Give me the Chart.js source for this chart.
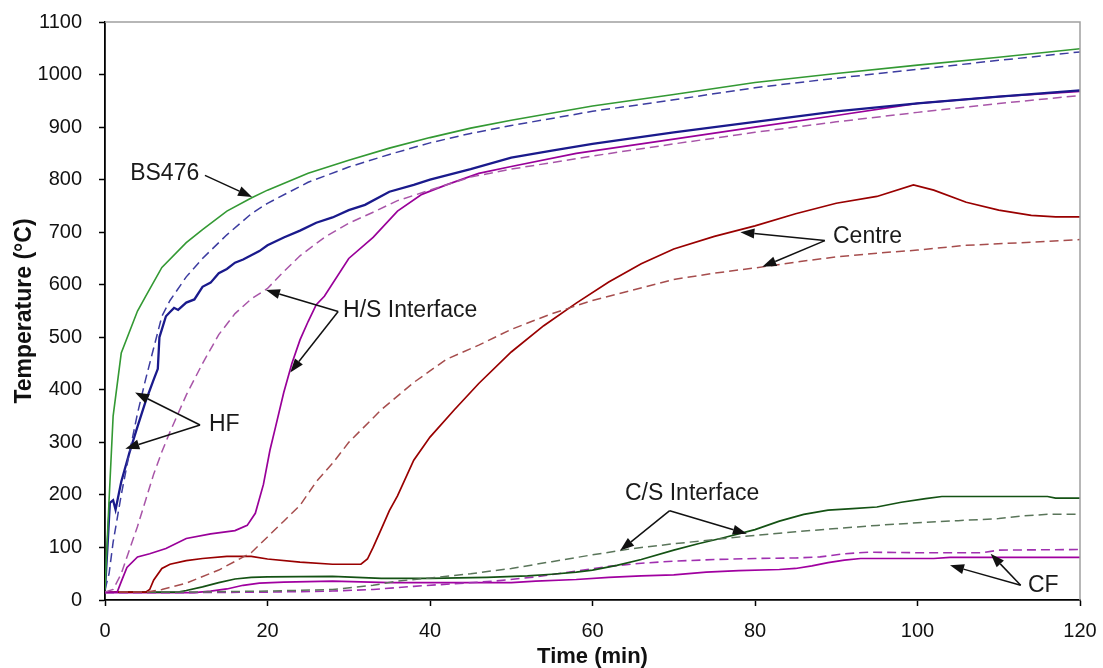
<!DOCTYPE html>
<html>
<head>
<meta charset="utf-8">
<script src="https://cdn.jsdelivr.net/npm/chart.js@4.4.1/dist/chart.umd.min.js"></script>
<style>
  html, body { margin: 0; padding: 0; background: #ffffff; }
  #wrap { width: 1103px; height: 668px; position: relative; }
</style>
</head>
<body>
<div id="wrap"><canvas id="c" width="1103" height="668"></canvas></div>
<script>
// ---- Axis ticks ----
const xTicks = [0, 20, 40, 60, 80, 100, 120];
const yTicks = [0, 100, 200, 300, 400, 500, 600, 700, 800, 900, 1000, 1100];

// ---- BS476 furnace curve ----
const bs476T = [0, 0.5, 1, 2, 4, 5, 7, 10, 12, 15, 18, 20, 25, 30, 35, 40, 45, 50, 60, 70, 80, 90, 100, 110, 120];
const bs476V = [20, 190, 350, 470, 550, 578, 633, 680, 705, 740, 765, 780, 812, 837, 860, 880, 898, 913, 940, 962, 985, 1002, 1018, 1033, 1049];

// ---- HF measured (solid) / predicted (dashed) ----
const hfMeasT = [0, 0.3, 0.6, 1, 1.3, 2, 3, 4, 5, 6, 6.5, 6.7, 7, 7.5, 8, 8.5, 9, 10, 11, 12, 13, 14, 15, 16, 17, 18, 19, 20, 22, 24, 26, 28, 30, 32, 35, 38, 40, 45, 50, 55, 60, 70, 80, 90, 100, 110, 120];
const hfMeasV = [20, 100, 185, 190, 172, 225, 280, 330, 378, 420, 440, 500, 515, 540, 548, 556, 552, 566, 572, 596, 604, 622, 630, 642, 648, 656, 664, 675, 690, 703, 718, 728, 742, 752, 777, 790, 800, 820, 842, 855, 868, 890, 910, 930, 945, 958, 970];
const hfPredT = [0, 0.5, 1, 2, 3, 4, 5, 6, 7, 8, 10, 12, 15, 18, 20, 25, 30, 35, 40, 45, 50, 60, 70, 80, 90, 100, 110, 120];
const hfPredV = [20, 50, 110, 200, 280, 355, 420, 480, 540, 570, 615, 650, 695, 735, 755, 795, 824, 848, 870, 888, 903, 930, 952, 975, 993, 1010, 1027, 1043];

// ---- H/S interface measured / predicted ----
const hsMeasT = [0, 1.5, 2, 2.7, 4, 5.5, 7.5, 10, 13, 16, 17.5, 18.5, 19.5, 20.3, 21, 22, 23, 24, 25, 26, 27, 30, 33, 36, 39, 42, 46, 50, 58, 70, 80, 90, 100, 110, 120];
const hsMeasV = [15, 15, 35, 62, 82, 88, 98, 117, 126, 132, 142, 165, 220, 285, 330, 395, 450, 495, 530, 562, 578, 650, 690, 740, 772, 790, 812, 825, 850, 877, 900, 922, 945, 958, 968];
const hsPredT = [0, 1, 2, 3, 4, 5, 6, 7, 8, 9, 10, 12, 14, 16, 18, 20, 22, 24, 27, 30, 33, 36, 40, 45, 50, 60, 70, 80, 90, 100, 110, 120];
const hsPredV = [15, 20, 50, 95, 140, 190, 240, 282, 320, 355, 390, 450, 505, 545, 573, 593, 625, 655, 690, 717, 738, 760, 780, 805, 820, 845, 868, 890, 910, 928, 945, 960];

// ---- Centre measured / predicted ----
const ctMeasT = [0, 5, 5.5, 6, 7, 8, 10, 12, 15, 18, 20, 24, 28, 31.5, 32.3, 33, 34, 35, 36, 38, 40, 43, 46, 50, 54, 58, 62, 66, 70, 75, 80, 85, 90, 95, 99.5, 102, 106, 110, 114, 117, 120];
const ctMeasV = [15, 15, 20, 38, 60, 68, 75, 79, 83, 83, 78, 72, 68, 68, 78, 100, 135, 170, 198, 266, 310, 362, 412, 472, 522, 565, 605, 640, 668, 692, 712, 735, 755, 768, 790, 780, 757, 742, 732, 729, 729];
const ctPredT = [0, 5, 7, 10, 14, 18, 20, 22, 24, 26, 28, 30, 34, 38, 42, 46, 50, 55, 60, 65, 70, 75, 80, 85, 90, 95, 100, 106, 114, 120];
const ctPredV = [15, 15, 20, 32, 57, 90, 120, 150, 180, 225, 260, 300, 362, 414, 458, 485, 515, 545, 570, 590, 610, 622, 632, 643, 653, 660, 666, 675, 681, 686];

// ---- C/S interface measured / predicted ----
const csMeasT = [0, 9, 10, 12, 14, 16, 18, 20, 28, 34, 40, 47, 52, 55, 58, 60, 63, 66, 70, 73, 76, 80, 83, 86, 89, 92, 95, 98, 101, 103, 110, 116, 117, 120];
const csMeasV = [15, 15, 18, 25, 33, 40, 43, 44, 45, 41, 41, 43, 46, 49, 53, 57, 66, 77, 95, 107, 118, 134, 150, 163, 171, 174, 177, 186, 193, 197, 197, 197, 194, 194];
const csPredT = [0, 10, 20, 28, 33, 36, 40, 45, 50, 55, 60, 65, 70, 75, 80, 85, 90, 95, 100, 105, 110, 113, 116, 120];
const csPredV = [15, 15, 17, 20, 28, 36, 42, 50, 60, 73, 86, 98, 107, 115, 123, 130, 136, 142, 147, 151, 155, 160, 163, 163];

// ---- CF measured / predicted ----
const cfMeasT = [0, 11, 13, 15, 17, 19, 22, 28, 35, 40, 50, 53, 58, 62, 66, 70, 74, 78, 83, 85, 87, 89, 91, 93, 102, 104, 120];
const cfMeasV = [14, 14, 17, 21, 28, 32, 34, 36, 33, 33, 33, 36, 39, 43, 46, 48, 53, 56, 58, 60, 65, 71, 76, 79, 79, 81, 81];
const cfPredT = [0, 10, 20, 28, 33, 38, 43, 48, 53, 58, 62, 66, 70, 75, 80, 85, 88, 91, 94, 100, 108, 110, 120];
const cfPredV = [14, 14, 15, 17, 20, 26, 31, 36, 44, 55, 64, 70, 74, 77, 79, 80, 82, 88, 91, 90, 90, 95, 96];

// ---- Annotation labels (data coordinates) ----
const noteText = ['BS476', 'H/S Interface', 'Centre', 'HF', 'C/S Interface', 'CF'];
const noteT = [3.1, 29.3, 89.6, 12.8, 64.0, 113.6];
const noteV = [812, 551, 692, 333, 203, 28];
// arrows: [fromT, fromV, toT, toV]
const arrows = [
  [12.3, 808, 18.1, 767],
  [28.7, 549, 19.8, 590],
  [28.7, 549, 22.8, 433],
  [88.6, 684, 78.2, 700],
  [88.6, 684, 80.9, 634],
  [11.7, 333, 3.7, 395],
  [11.7, 333, 2.5, 288],
  [69.5, 170, 63.4, 94],
  [69.5, 170, 79.0, 126],
  [112.7, 28, 104.0, 66],
  [112.7, 28, 109.0, 88]
];

function pts(T, V) { return T.map((t, i) => ({ x: t, y: V[i] })); }

function ds(T, V, color, width, dashed) {
  return {
    data: pts(T, V),
    borderColor: color,
    backgroundColor: color,
    borderWidth: width,
    borderDash: dashed ? [9, 5] : [],
    pointRadius: 0,
    tension: 0,
    fill: false
  };
}

const FONT = '"Liberation Sans", Arial, sans-serif';

const framePlugin = {
  id: 'frameNotes',
  afterDatasetsDraw(chart) {
    const ctx = chart.ctx;
    const xs = chart.scales.x, ys = chart.scales.y;
    const a = chart.chartArea;
    ctx.save();
    ctx.strokeStyle = '#a0a0a0';
    ctx.lineWidth = 1.5;
    ctx.beginPath();
    ctx.moveTo(a.left, a.top);
    ctx.lineTo(a.right, a.top);
    ctx.lineTo(a.right, a.bottom);
    ctx.stroke();
    ctx.strokeStyle = '#111111';
    ctx.fillStyle = '#111111';
    ctx.lineWidth = 1.5;
    arrows.forEach(ar => {
      const x1 = xs.getPixelForValue(ar[0]), y1 = ys.getPixelForValue(ar[1]);
      const x2 = xs.getPixelForValue(ar[2]), y2 = ys.getPixelForValue(ar[3]);
      const ang = Math.atan2(y2 - y1, x2 - x1);
      const L = 14, W = 5;
      const bx = x2 - L * Math.cos(ang), by = y2 - L * Math.sin(ang);
      ctx.beginPath();
      ctx.moveTo(x1, y1);
      ctx.lineTo(bx, by);
      ctx.stroke();
      ctx.beginPath();
      ctx.moveTo(x2, y2);
      ctx.lineTo(bx + W * Math.sin(ang), by - W * Math.cos(ang));
      ctx.lineTo(bx - W * Math.sin(ang), by + W * Math.cos(ang));
      ctx.closePath();
      ctx.fill();
    });
    ctx.font = '23px ' + FONT;
    ctx.textAlign = 'left';
    ctx.textBaseline = 'middle';
    ctx.fillStyle = '#1a1a1a';
    noteText.forEach((t, i) => {
      ctx.fillText(t, xs.getPixelForValue(noteT[i]), ys.getPixelForValue(noteV[i]));
    });
    ctx.restore();
  }
};

new Chart(document.getElementById('c'), {
  type: 'line',
  data: {
    datasets: [
      ds(bs476T, bs476V, '#339933', 1.6, false),
      ds(hfPredT, hfPredV, '#3c3ca0', 1.5, true),
      ds(hfMeasT, hfMeasV, '#1a1a8c', 2.3, false),
      ds(hsPredT, hsPredV, '#a855a8', 1.5, true),
      ds(hsMeasT, hsMeasV, '#990099', 1.7, false),
      ds(ctPredT, ctPredV, '#a64d4d', 1.5, true),
      ds(ctMeasT, ctMeasV, '#990000', 1.7, false),
      ds(csPredT, csPredV, '#5a755a', 1.5, true),
      ds(csMeasT, csMeasV, '#145214', 1.7, false),
      ds(cfPredT, cfPredV, '#a030b0', 1.6, true),
      ds(cfMeasT, cfMeasV, '#a000a0', 1.7, false)
    ]
  },
  options: {
    responsive: false,
    animation: false,
    layout: { padding: { top: 22, right: 23, left: 0, bottom: 0 } },
    plugins: { legend: { display: false }, tooltip: { enabled: false } },
    scales: {
      x: {
        type: 'linear',
        min: 0, max: 120,
        afterBuildTicks: s => { s.ticks = xTicks.map(v => ({ value: v })); },
        afterFit: s => { s.height = 68; s.paddingLeft = 0; s.paddingRight = 0; },
        ticks: { color: '#111', font: { family: FONT, size: 20 }, padding: 13, maxRotation: 0, callback: v => String(v) },
        grid: { drawOnChartArea: false, drawTicks: true, tickLength: 6, tickColor: '#000', tickWidth: 1.5 },
        border: { display: true, color: '#000', width: 1.8 },
        title: { display: true, text: 'Time (min)', color: '#111', font: { family: FONT, size: 22, weight: 'bold', lineHeight: 1.0 }, padding: { top: 0, bottom: 0 } }
      },
      y: {
        type: 'linear',
        min: 0, max: 1100,
        afterBuildTicks: s => { s.ticks = yTicks.map(v => ({ value: v })); },
        afterFit: s => { s.width = 105; s.paddingTop = 0; s.paddingBottom = 0; },
        ticks: { color: '#111', font: { family: FONT, size: 20 }, padding: 17, callback: v => String(v) },
        grid: { drawOnChartArea: false, drawTicks: true, tickLength: 6, tickColor: '#000', tickWidth: 1.5 },
        border: { display: true, color: '#000', width: 1.8 },
        title: { display: true, text: 'Temperature (°C)', color: '#111', font: { family: FONT, size: 23, weight: 'bold', lineHeight: 1.0 }, padding: { top: 13, bottom: 0 } }
      }
    }
  },
  plugins: [framePlugin]
});
</script>
</body>
</html>
